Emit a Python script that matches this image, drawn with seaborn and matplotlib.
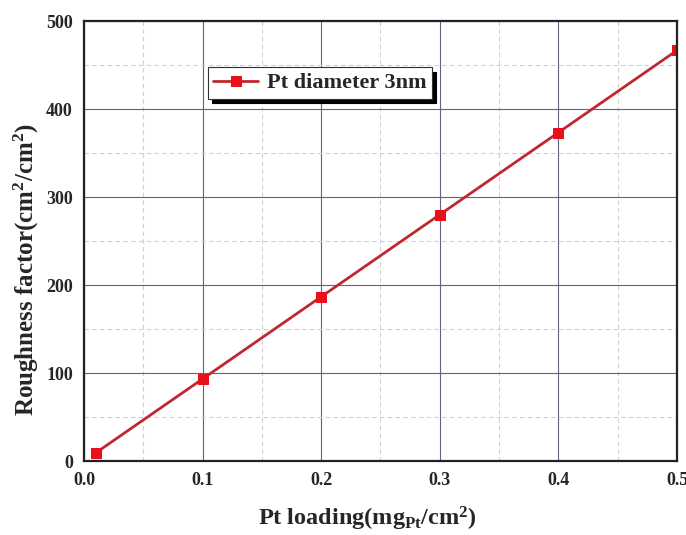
import matplotlib
matplotlib.use("Agg")
import matplotlib.pyplot as plt
import seaborn as sns
import pandas as pd
from matplotlib.ticker import MultipleLocator

sns.set_style("white")
plt.rcParams['font.family'] = ['Liberation Serif', 'DejaVu Serif']
plt.rcParams['mathtext.fontset'] = 'custom'
plt.rcParams['mathtext.rm'] = 'Liberation Serif:bold'
plt.rcParams['mathtext.it'] = 'Liberation Serif:bold'
plt.rcParams['mathtext.bf'] = 'Liberation Serif:bold'

pt_loading = [0.01, 0.1, 0.2, 0.3, 0.4, 0.5]
roughness = [9.3, 93.3, 186.7, 280.0, 373.3, 466.7]
series_name = "Pt diameter 3nm"

df = pd.DataFrame({"x": pt_loading, "y": roughness, "s": series_name})

fig = plt.figure(figsize=(6.86, 5.35), dpi=100)
ax = fig.add_axes([0.1224, 0.1383, 0.8645, 0.8224])

sns.lineplot(data=df, x="x", y="y", hue="s", palette=["#c0282d"], marker="s",
             markersize=7, markerfacecolor="#e8101a", markeredgecolor="#e8101a",
             linewidth=2, ax=ax, legend=True)

ax.set_xlim(0.0, 0.5)
ax.set_ylim(0, 500)
ax.xaxis.set_major_locator(MultipleLocator(0.1))
ax.xaxis.set_minor_locator(MultipleLocator(0.05))
ax.yaxis.set_major_locator(MultipleLocator(100))
ax.yaxis.set_minor_locator(MultipleLocator(50))
ax.set_xticks([0.0, 0.1, 0.2, 0.3, 0.4, 0.5])
ax.set_xticklabels(["0.0", "0.1", "0.2", "0.3", "0.4", "0.5"])

ax.grid(True, which="major", color="#5f6580", linewidth=0.8, linestyle="-")
ax.grid(True, which="minor", color="#cfcfcf", linewidth=0.8, linestyle=(0, (4, 3)))
ax.set_axisbelow(True)

ax.tick_params(axis="both", which="major", direction="in", length=6, width=1.2,
               labelsize=13, pad=8)
ax.tick_params(axis="both", which="minor", direction="in", length=3, width=1.2)
for lab in ax.get_xticklabels() + ax.get_yticklabels():
    lab.set_fontweight("bold")
for sp in ax.spines.values():
    sp.set_linewidth(1.6)
    sp.set_color("#222222")

ax.set_xlabel("Pt loading(mg$_{Pt}$/cm$^2$)", fontsize=17.5, fontweight="bold")
ax.set_ylabel("Roughness factor(cm$^2$/cm$^2$)", fontsize=18, fontweight="bold")
ax.xaxis.set_label_coords(0.478, -0.1)
ax.yaxis.set_label_coords(-0.072, 0.436)

leg = ax.legend(loc="upper left", bbox_to_anchor=(0.19, 0.92), frameon=True,
                fancybox=False, shadow={"color": "black", "alpha": 1, "ox": 3, "oy": -3},
                prop={"family": "Liberation Serif", "weight": "bold", "size": 16},
                handlelength=2.0, borderpad=0.25, handletextpad=0.4)
leg.get_frame().set_edgecolor("#333333")
leg.get_frame().set_linewidth(0.8)

fig.savefig("out.png", dpi=100)
